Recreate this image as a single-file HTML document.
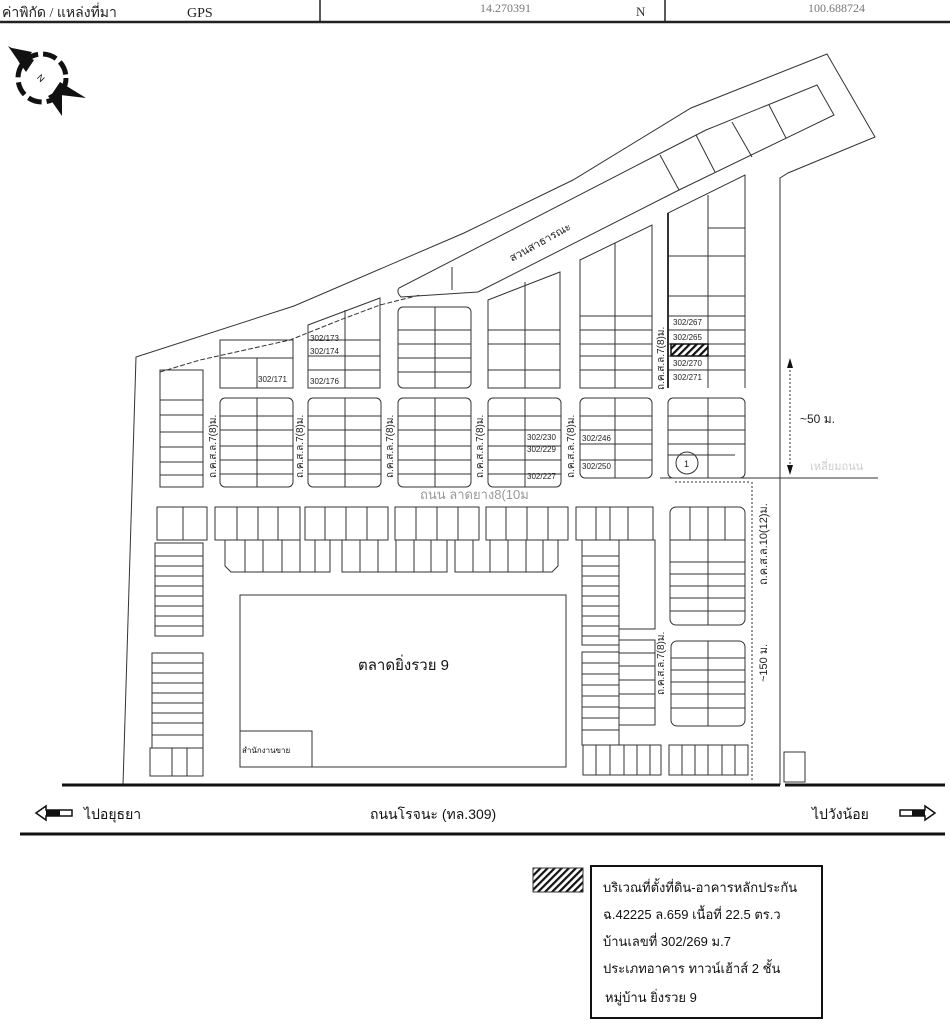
<!DOCTYPE html>
<html><head><meta charset="utf-8"><style>
html,body{margin:0;padding:0;background:#fff;}
svg{display:block;}
text{font-family:"Liberation Sans","Noto Sans CJK SC",sans-serif;}
.s{font-family:"Liberation Serif","Noto Serif CJK SC",serif;}
</style></head><body>
<svg width="950" height="1031" viewBox="0 0 950 1031" xmlns="http://www.w3.org/2000/svg">
<defs>
<pattern id="h" width="5" height="5" patternUnits="userSpaceOnUse" patternTransform="rotate(45)">
<rect width="5" height="5" fill="#fff"/><rect width="2.2" height="5" fill="#111"/></pattern>
</defs>
<!-- header -->
<text x="2" y="17" font-size="14" class="s" fill="#222">ค่าพิกัด / แหล่งที่มา</text>
<text x="187" y="17" font-size="14" class="s" fill="#222">GPS</text>
<text x="480" y="12" font-size="12" class="s" fill="#777">14.270391</text>
<text x="636" y="16" font-size="13" class="s" fill="#333">N</text>
<text x="808" y="12" font-size="12" class="s" fill="#777">100.688724</text>
<line x1="0" y1="22" x2="950" y2="22" stroke="#222" stroke-width="2.5"/>
<line x1="320" y1="0" x2="320" y2="22" stroke="#222" stroke-width="1.5"/>
<line x1="665" y1="0" x2="665" y2="22" stroke="#222" stroke-width="1.5"/>
<!-- compass -->
<g transform="translate(42,78)">
<circle r="24" fill="none" stroke="#111" stroke-width="5" stroke-dasharray="14 5"/>
<polygon points="-34,-32 -16,-6 -8,-18" fill="#111"/>
<polygon points="-30,-30 -10,-26 -20,-10" fill="#111"/>
<polygon points="44,20 18,4 10,16" fill="#111"/>
<polygon points="20,38 20,10 6,18" fill="#111"/>
<text x="-4" y="4" font-size="9" transform="rotate(45)" fill="#111">N</text>
</g>
<g fill="none" stroke="#333" stroke-width="1">
<!-- outer boundary -->
<path d="M123,785 L136,357 L294,306 L464,233 L573,180 L691,108 L827,54 L875,137 L788,173 L780,178 L780,785"/>
<!-- park strip -->
<path d="M478,292 L401,297 Q396,292 399,288 L657,155 L706,130 L817,85 L834,115 L679,190 L478,292"/>
<line x1="660" y1="155" x2="679" y2="190"/>
<line x1="696" y1="135" x2="715" y2="172"/>
<line x1="732" y1="122" x2="752" y2="157"/>
<line x1="769" y1="105" x2="786" y2="138"/>
<line x1="452" y1="267" x2="452" y2="290"/>
<!-- dashed inner top -->
<path d="M160,372 L200,360 L290,340 L340,320 L380,305 L420,295" stroke-dasharray="5 2"/>
<!-- block A -->
<rect x="160" y="370" width="43" height="117"/>
<line x1="160" y1="400" x2="203" y2="400"/><line x1="160" y1="415" x2="203" y2="415"/><line x1="160" y1="432" x2="203" y2="432"/><line x1="160" y1="447" x2="203" y2="447"/><line x1="160" y1="462" x2="203" y2="462"/><line x1="160" y1="475" x2="203" y2="475"/>
<!-- block B -->
<rect x="220" y="340" width="73" height="48"/><line x1="220" y1="358" x2="293" y2="358"/><line x1="257" y1="358" x2="257" y2="388"/>
<rect x="220" y="398" width="73" height="89" rx="5"/><line x1="257" y1="398" x2="257" y2="487"/>
<line x1="220" y1="416" x2="293" y2="416"/><line x1="220" y1="430" x2="293" y2="430"/><line x1="220" y1="446" x2="293" y2="446"/><line x1="220" y1="460" x2="293" y2="460"/><line x1="220" y1="474" x2="293" y2="474"/>
<!-- block C -->
<path d="M308,388 L308,325 L380,298 L380,388 Z"/><line x1="345" y1="310" x2="345" y2="388"/>
<line x1="308" y1="340" x2="380" y2="340"/><line x1="308" y1="356" x2="380" y2="356"/><line x1="308" y1="370" x2="380" y2="370"/>
<rect x="308" y="398" width="73" height="89" rx="5"/><line x1="345" y1="398" x2="345" y2="487"/>
<line x1="308" y1="416" x2="381" y2="416"/><line x1="308" y1="430" x2="381" y2="430"/><line x1="308" y1="446" x2="381" y2="446"/><line x1="308" y1="460" x2="381" y2="460"/><line x1="308" y1="474" x2="381" y2="474"/>
<!-- block D -->
<rect x="398" y="307" width="73" height="81" rx="5"/><line x1="435" y1="307" x2="435" y2="388"/>
<line x1="398" y1="330" x2="471" y2="330"/><line x1="398" y1="344" x2="471" y2="344"/><line x1="398" y1="358" x2="471" y2="358"/><line x1="398" y1="372" x2="471" y2="372"/>
<rect x="398" y="398" width="73" height="89" rx="5"/><line x1="435" y1="398" x2="435" y2="487"/>
<line x1="398" y1="416" x2="471" y2="416"/><line x1="398" y1="430" x2="471" y2="430"/><line x1="398" y1="446" x2="471" y2="446"/><line x1="398" y1="460" x2="471" y2="460"/><line x1="398" y1="474" x2="471" y2="474"/>
<!-- block E -->
<path d="M488,388 L488,300 L560,272 L560,388 Z"/><line x1="525" y1="282" x2="525" y2="388"/>
<line x1="488" y1="330" x2="560" y2="330"/><line x1="488" y1="344" x2="560" y2="344"/><line x1="488" y1="370" x2="560" y2="370"/>
<rect x="488" y="398" width="73" height="89" rx="5"/><line x1="525" y1="398" x2="525" y2="487"/>
<line x1="488" y1="416" x2="561" y2="416"/><line x1="488" y1="430" x2="561" y2="430"/><line x1="488" y1="446" x2="561" y2="446"/><line x1="488" y1="460" x2="561" y2="460"/><line x1="488" y1="474" x2="561" y2="474"/>
<!-- block F -->
<path d="M580,388 L580,260 L652,225 L652,388 Z"/><line x1="615" y1="243" x2="615" y2="388"/>
<line x1="580" y1="316" x2="652" y2="316"/><line x1="580" y1="330" x2="652" y2="330"/><line x1="580" y1="344" x2="652" y2="344"/><line x1="580" y1="356" x2="652" y2="356"/><line x1="580" y1="370" x2="652" y2="370"/>
<rect x="580" y="398" width="72" height="80" rx="5"/><line x1="615" y1="398" x2="615" y2="478"/>
<line x1="580" y1="416" x2="652" y2="416"/><line x1="580" y1="430" x2="652" y2="430"/><line x1="580" y1="444" x2="652" y2="444"/><line x1="580" y1="460" x2="652" y2="460"/>
<!-- block G -->
<path d="M668,388 L668,213 L745,175 L745,388" /><line x1="668" y1="213" x2="668" y2="388" stroke-width="2"/><line x1="708" y1="195" x2="708" y2="388"/>
<line x1="708" y1="228" x2="745" y2="228"/><line x1="668" y1="256" x2="745" y2="256"/><line x1="668" y1="296" x2="745" y2="296"/><line x1="668" y1="316" x2="745" y2="316"/><line x1="668" y1="330" x2="745" y2="330"/><line x1="668" y1="344" x2="745" y2="344"/><line x1="668" y1="356" x2="745" y2="356"/><line x1="668" y1="370" x2="745" y2="370"/>
<rect x="668" y="398" width="77" height="80" rx="5"/><line x1="708" y1="398" x2="708" y2="478"/>
<line x1="668" y1="416" x2="745" y2="416"/><line x1="668" y1="430" x2="745" y2="430"/><line x1="668" y1="444" x2="745" y2="444"/><line x1="668" y1="455" x2="735" y2="455"/>
<circle cx="687" cy="463" r="11"/>
<!-- lower row -->
<rect x="157" y="507" width="50" height="33"/><line x1="183" y1="507" x2="183" y2="540"/>
<rect x="215" y="507" width="85" height="33"/><line x1="237" y1="507" x2="237" y2="540"/><line x1="258" y1="507" x2="258" y2="540"/><line x1="278" y1="507" x2="278" y2="540"/>
<rect x="305" y="507" width="83" height="33"/><line x1="325" y1="507" x2="325" y2="540"/><line x1="346" y1="507" x2="346" y2="540"/><line x1="367" y1="507" x2="367" y2="540"/>
<rect x="395" y="507" width="84" height="33"/><line x1="416" y1="507" x2="416" y2="540"/><line x1="437" y1="507" x2="437" y2="540"/><line x1="458" y1="507" x2="458" y2="540"/>
<rect x="486" y="507" width="82" height="33"/><line x1="506" y1="507" x2="506" y2="540"/><line x1="527" y1="507" x2="527" y2="540"/><line x1="548" y1="507" x2="548" y2="540"/>
<path d="M225,540 L225,566 L231,572 L330,572 L330,540"/><path d="M342,540 L342,572 L447,572 L447,540"/><path d="M455,540 L455,572 L552,572 L558,566 L558,540"/>
<line x1="245" y1="540" x2="245" y2="572"/><line x1="263" y1="540" x2="263" y2="572"/><line x1="282" y1="540" x2="282" y2="572"/><line x1="300" y1="540" x2="300" y2="572"/><line x1="315" y1="540" x2="315" y2="572"/>
<line x1="360" y1="540" x2="360" y2="572"/><line x1="378" y1="540" x2="378" y2="572"/><line x1="396" y1="540" x2="396" y2="572"/><line x1="414" y1="540" x2="414" y2="572"/><line x1="431" y1="540" x2="431" y2="572"/>
<line x1="473" y1="540" x2="473" y2="572"/><line x1="490" y1="540" x2="490" y2="572"/><line x1="508" y1="540" x2="508" y2="572"/><line x1="526" y1="540" x2="526" y2="572"/><line x1="543" y1="540" x2="543" y2="572"/>
<!-- left column lower -->
<rect x="155" y="543" width="48" height="93"/>
<line x1="155" y1="556" x2="203" y2="556"/><line x1="155" y1="566" x2="203" y2="566"/><line x1="155" y1="576" x2="203" y2="576"/><line x1="155" y1="586" x2="203" y2="586"/><line x1="155" y1="596" x2="203" y2="596"/><line x1="155" y1="606" x2="203" y2="606"/><line x1="155" y1="616" x2="203" y2="616"/><line x1="155" y1="626" x2="203" y2="626"/>
<rect x="152" y="653" width="51" height="95"/>
<line x1="152" y1="663" x2="203" y2="663"/><line x1="152" y1="673" x2="203" y2="673"/><line x1="152" y1="683" x2="203" y2="683"/><line x1="152" y1="693" x2="203" y2="693"/><line x1="152" y1="703" x2="203" y2="703"/><line x1="152" y1="713" x2="203" y2="713"/><line x1="152" y1="723" x2="203" y2="723"/><line x1="152" y1="735" x2="203" y2="735"/>
<rect x="150" y="748" width="53" height="28"/><line x1="172" y1="748" x2="172" y2="776"/><line x1="187" y1="748" x2="187" y2="776"/>
<!-- market -->
<rect x="240" y="595" width="326" height="172"/>
<rect x="240" y="731" width="72" height="36"/>
<!-- right lower -->
<rect x="576" y="507" width="77" height="33"/><line x1="596" y1="507" x2="596" y2="540"/><line x1="610" y1="507" x2="610" y2="540"/><line x1="628" y1="507" x2="628" y2="540"/>
<rect x="582" y="540" width="37" height="105"/>
<line x1="582" y1="556" x2="619" y2="556"/><line x1="582" y1="566" x2="619" y2="566"/><line x1="582" y1="576" x2="619" y2="576"/><line x1="582" y1="586" x2="619" y2="586"/><line x1="582" y1="596" x2="619" y2="596"/><line x1="582" y1="606" x2="619" y2="606"/><line x1="582" y1="616" x2="619" y2="616"/><line x1="582" y1="626" x2="619" y2="626"/><line x1="582" y1="636" x2="619" y2="636"/>
<rect x="619" y="540" width="36" height="89"/>
<rect x="582" y="652" width="37" height="93"/>
<line x1="582" y1="663" x2="619" y2="663"/><line x1="582" y1="674" x2="619" y2="674"/><line x1="582" y1="685" x2="619" y2="685"/><line x1="582" y1="696" x2="619" y2="696"/><line x1="582" y1="707" x2="619" y2="707"/><line x1="582" y1="718" x2="619" y2="718"/><line x1="582" y1="730" x2="619" y2="730"/>
<rect x="619" y="640" width="36" height="85"/>
<line x1="619" y1="653" x2="655" y2="653"/><line x1="619" y1="666" x2="655" y2="666"/><line x1="619" y1="680" x2="655" y2="680"/><line x1="619" y1="694" x2="655" y2="694"/><line x1="619" y1="708" x2="655" y2="708"/>
<rect x="670" y="507" width="75" height="118" rx="6"/><line x1="708" y1="507" x2="708" y2="625"/><line x1="690" y1="507" x2="690" y2="540"/><line x1="725" y1="507" x2="725" y2="540"/>
<line x1="670" y1="540" x2="745" y2="540"/><line x1="670" y1="562" x2="745" y2="562"/><line x1="670" y1="574" x2="745" y2="574"/><line x1="670" y1="586" x2="745" y2="586"/><line x1="670" y1="598" x2="745" y2="598"/><line x1="670" y1="611" x2="745" y2="611"/>
<rect x="671" y="641" width="74" height="85" rx="6"/><line x1="708" y1="641" x2="708" y2="726"/>
<line x1="671" y1="658" x2="745" y2="658"/><line x1="671" y1="670" x2="745" y2="670"/><line x1="671" y1="682" x2="745" y2="682"/><line x1="671" y1="694" x2="745" y2="694"/><line x1="671" y1="708" x2="745" y2="708"/>
<rect x="583" y="745" width="78" height="30"/><line x1="596" y1="745" x2="596" y2="775"/><line x1="610" y1="745" x2="610" y2="775"/><line x1="624" y1="745" x2="624" y2="775"/><line x1="637" y1="745" x2="637" y2="775"/><line x1="650" y1="745" x2="650" y2="775"/>
<rect x="669" y="745" width="79" height="30"/><line x1="682" y1="745" x2="682" y2="775"/><line x1="695" y1="745" x2="695" y2="775"/><line x1="708" y1="745" x2="708" y2="775"/><line x1="722" y1="745" x2="722" y2="775"/><line x1="735" y1="745" x2="735" y2="775"/>
<rect x="784" y="752" width="21" height="30"/>
<!-- dims -->
<line x1="660" y1="478" x2="878" y2="478"/>
<line x1="752" y1="482" x2="752" y2="780" stroke-dasharray="2 2"/>
<line x1="790" y1="362" x2="790" y2="470" stroke-dasharray="2 2"/>
<line x1="675" y1="482" x2="750" y2="482" stroke-dasharray="2 2"/>
</g>
<polygon points="787,368 793,368 790,358" fill="#111"/><polygon points="787,465 793,465 790,475" fill="#111"/>
<!-- hatched target -->
<rect x="671" y="344" width="37" height="12" fill="url(#h)" stroke="#111" stroke-width="1.5"/>
<!-- labels -->
<g font-size="8" fill="#222">
<text x="310" y="341">302/173</text><text x="310" y="354">302/174</text><text x="310" y="384">302/176</text><text x="258" y="382">302/171</text>
<text x="527" y="440">302/230</text><text x="527" y="452">302/229</text><text x="527" y="479">302/227</text>
<text x="582" y="441">302/246</text><text x="582" y="469">302/250</text>
<text x="673" y="325">302/267</text><text x="673" y="340">302/265</text><text x="673" y="366">302/270</text><text x="673" y="380">302/271</text>
<text x="684" y="467" font-size="9">1</text>
</g>
<g font-size="10" fill="#222">
<text transform="translate(216,478) rotate(-90)">ถ.ค.ส.ล.7(8)ม.</text>
<text transform="translate(303,478) rotate(-90)">ถ.ค.ส.ล.7(8)ม.</text>
<text transform="translate(393,478) rotate(-90)">ถ.ค.ส.ล.7(8)ม.</text>
<text transform="translate(483,478) rotate(-90)">ถ.ค.ส.ล.7(8)ม.</text>
<text transform="translate(574,478) rotate(-90)">ถ.ค.ส.ล.7(8)ม.</text>
<text transform="translate(664,390) rotate(-90)">ถ.ค.ส.ล.7(8)ม.</text>
<text transform="translate(664,695) rotate(-90)">ถ.ค.ส.ล.7(8)ม.</text>
<text transform="translate(767,585) rotate(-90)" font-size="11">ถ.ค.ส.ล.10(12)ม.</text>
<text transform="translate(767,682) rotate(-90)" font-size="11">~150 ม.</text>
<text transform="translate(512,262) rotate(-29)" font-size="11">สวนสาธารณะ</text>
</g>
<text x="420" y="499" font-size="13" fill="#999">ถนน ลาดยาง8(10ม</text>
<text x="800" y="423" font-size="12" fill="#222">~50 ม.</text>
<text x="810" y="470" font-size="11" fill="#ccc">เหลี่ยมถนน</text>
<text x="358" y="670" font-size="15" fill="#111">ตลาดยิ่งรวย 9</text>
<text x="242" y="753" font-size="8" fill="#111">สำนักงานขาย</text>
<!-- main road -->
<line x1="62" y1="785" x2="780" y2="785" stroke="#111" stroke-width="3"/>
<line x1="785" y1="785" x2="945" y2="785" stroke="#111" stroke-width="3"/>
<line x1="20" y1="834" x2="945" y2="834" stroke="#111" stroke-width="3"/>
<polygon points="36,813 46,806 46,810 72,810 72,816 46,816 46,820" fill="#fff" stroke="#111" stroke-width="1.5"/>
<rect x="46" y="810" width="14" height="6" fill="#111"/>
<text x="84" y="819" font-size="14" fill="#111">ไปอยุธยา</text>
<text x="370" y="819" font-size="14" fill="#111">ถนนโรจนะ (ทล.309)</text>
<text x="812" y="819" font-size="14" fill="#111">ไปวังน้อย</text>
<polygon points="935,813 925,806 925,810 900,810 900,816 925,816 925,820" fill="#fff" stroke="#111" stroke-width="1.5"/>
<rect x="912" y="810" width="13" height="6" fill="#111"/>
<!-- legend -->
<rect x="533" y="868" width="50" height="24" fill="url(#h)" stroke="#333"/>
<rect x="591" y="866" width="231" height="152" fill="none" stroke="#111" stroke-width="2"/>
<g class="s" font-size="13" fill="#111">
<text x="603" y="892">บริเวณที่ตั้งที่ดิน-อาคารหลักประกัน</text>
<text x="603" y="919">ฉ.42225 ล.659 เนื้อที่ 22.5 ตร.ว</text>
<text x="603" y="946">บ้านเลขที่ 302/269 ม.7</text>
<text x="603" y="973">ประเภทอาคาร ทาวน์เฮ้าส์ 2 ชั้น</text>
<text x="605" y="1002">หมู่บ้าน ยิ่งรวย 9</text>
</g>
</svg>
</body></html>
